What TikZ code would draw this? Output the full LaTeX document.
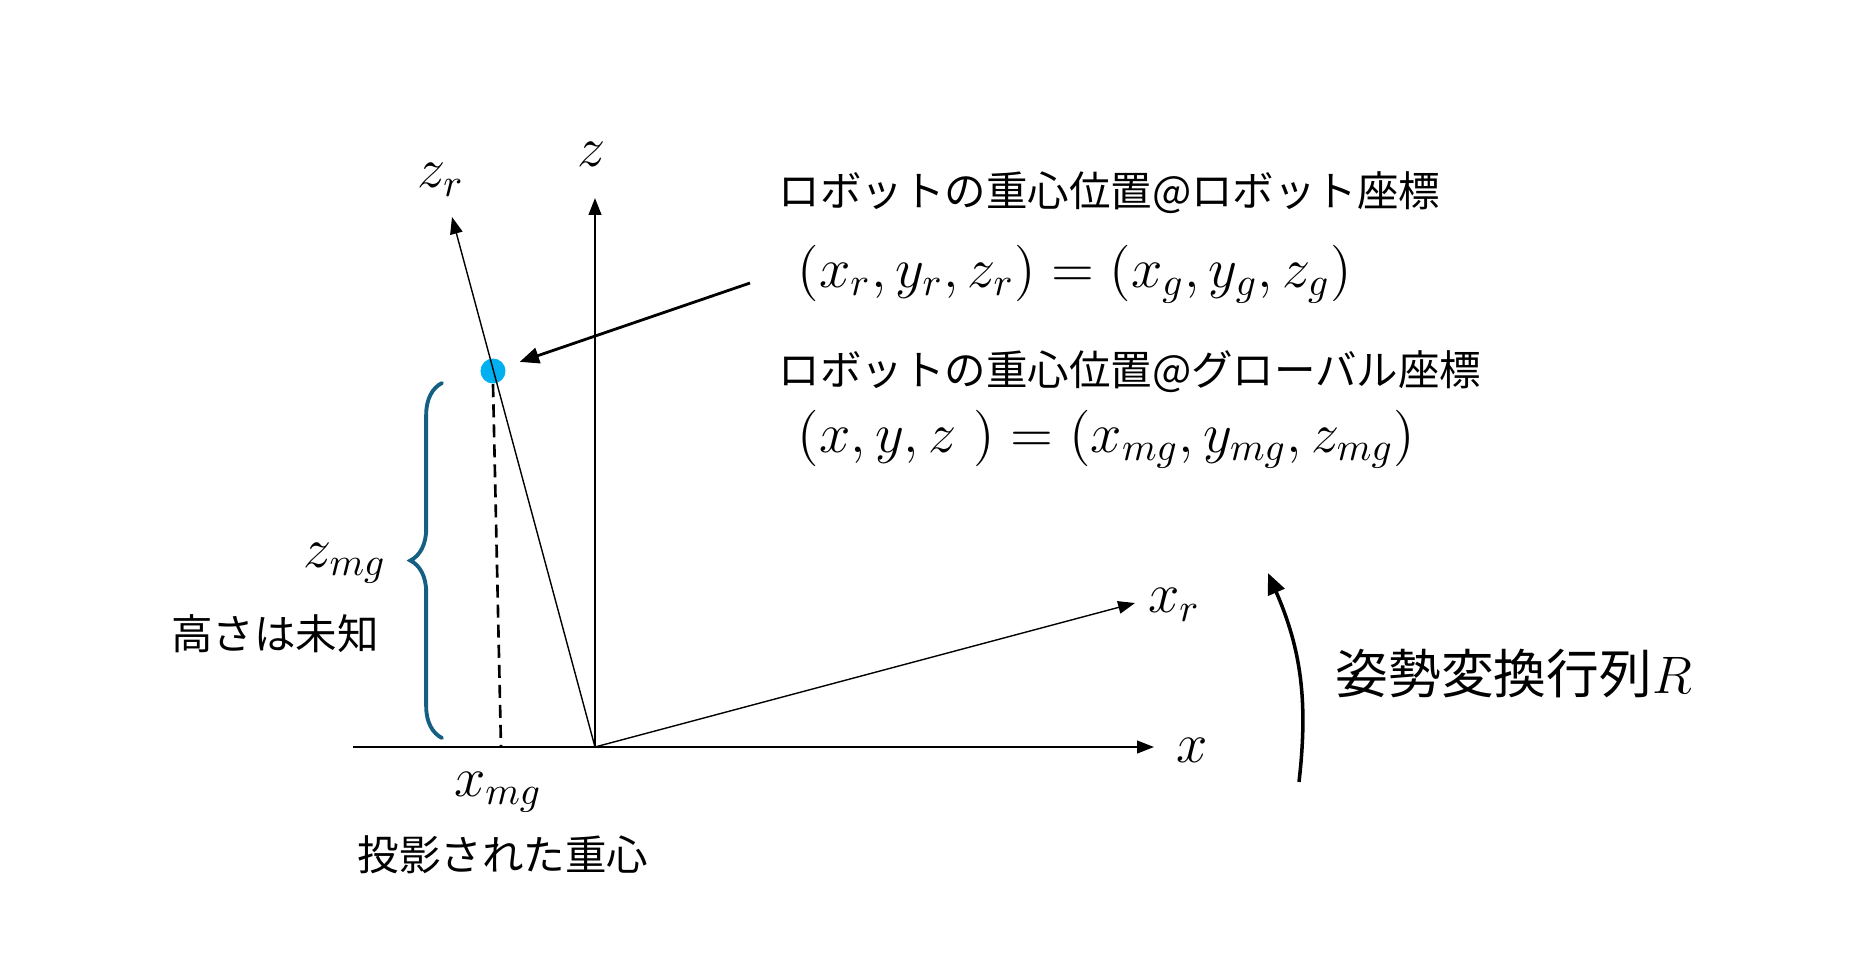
\RequirePackage{fix-cm}
\documentclass[tikz,border=0pt]{standalone}
\usepackage{amsmath}
\usepackage{fontspec}
\newfontfamily\jpfont{Noto Sans CJK JP}
\usepackage{xcolor}
\usepackage{tikz}
\usetikzlibrary{arrows.meta,decorations.pathreplacing}

\definecolor{cogblue}{HTML}{00B0F0}
\definecolor{bracecol}{HTML}{156082}

\tikzset{
	axisarrow/.style={line width=0.55pt,-{Triangle[length=4.8pt,width=3.6pt]}},
	raxisarrow/.style={line width=0.4pt,-{Triangle[length=4.8pt,width=3.6pt]}},
	pointer/.style={line width=0.8pt,-{Triangle[length=5.5pt,width=4.5pt]}},
	jplabel/.style={font=\jpfont\fontsize{11.8}{14}\selectfont,inner sep=0pt},
	mlabel/.style={font=\fontsize{16}{19}\selectfont,inner sep=0pt},
}

\begin{document}
\begin{tikzpicture}[x=0.01cm,y=-0.01cm]
			\useasboundingbox (0,0) rectangle (1859,956);
			
			% ground frame / robot frame
			\coordinate (O)     at (595,747);
			\coordinate (xleft) at (353,747);
			\coordinate (xtip)  at (1154,747);
			\coordinate (ztip)  at (595,198);
			\coordinate (zrtip) at (452,217);
			\coordinate (xrtip) at (1135,603);
			\coordinate (foot)  at (501,747);
			
			% centre of gravity
			\node[circle,fill=cogblue,minimum size=0.25cm,inner sep=0pt] (cog) at (493,371) {};
			\draw[line width=0.75pt,dash pattern=on 3.7pt off 2pt] (cog.south) -- (foot);
			
			\draw[line width=0.55pt] (xleft) -- (O);
			\draw[axisarrow] (O) -- (xtip);
			\draw[axisarrow] (O) -- (ztip);
			\draw[raxisarrow] (O) -- (zrtip);
			\draw[raxisarrow] (O) -- (xrtip);
			
			% axis labels
			\node[mlabel] (zlab)  at (592,154) {$z$};
			\node[mlabel] (zrlab) at (441,180) {$z_r$};
			\node[mlabel] (xlab)  at (1192,750) {$x$};
			\node[mlabel] (xrlab) at (1174,605) {$x_r$};
			
			% height brace
			\draw[bracecol,line width=1.1pt,line cap=round,decorate,decoration={brace,amplitude=9pt}] (442,738) -- (442,383);
			\node[mlabel] (zmg) at (345,563) {$z_{mg}$};
			\node[jplabel] (height) at (275,634) {高さは未知};
			\node[mlabel] (xmg) at (498,792) {$x_{mg}$};
			\node[jplabel] (proj) at (503,855) {投影された重心};
			
			% texts on the right
			\node[jplabel,anchor=west] (robtitle) at (778,193) {ロボットの重心位置@ロボット座標};
			\node[mlabel,anchor=west] (robeq) at (797,274) {$(x_r,y_r,z_r)=(x_g,y_g,z_g)$};
			\node[jplabel,anchor=west] (globtitle) at (778,372) {ロボットの重心位置@グローバル座標};
			\node[mlabel,anchor=west] (globeq) at (797,439) {$(x,y,z\ )=(x_{mg},y_{mg},z_{mg})$};
			\coordinate (ptail) at (750,283);
			\draw[pointer,shorten >=0.15cm] (ptail) -- (cog);
			
			% rotation
			\coordinate (rbot) at (1299,782);
			\coordinate (rtop) at (1268,573);
			\draw[line width=1pt,-{Triangle[length=6pt,width=5pt]}] (rbot) to[bend right=15] (rtop);
			\node[font=\jpfont\fontsize{15}{18}\selectfont,inner sep=0pt,anchor=west] (rot) at (1335,673) {姿勢変換行列$R$};
		\end{tikzpicture}
\end{document}
